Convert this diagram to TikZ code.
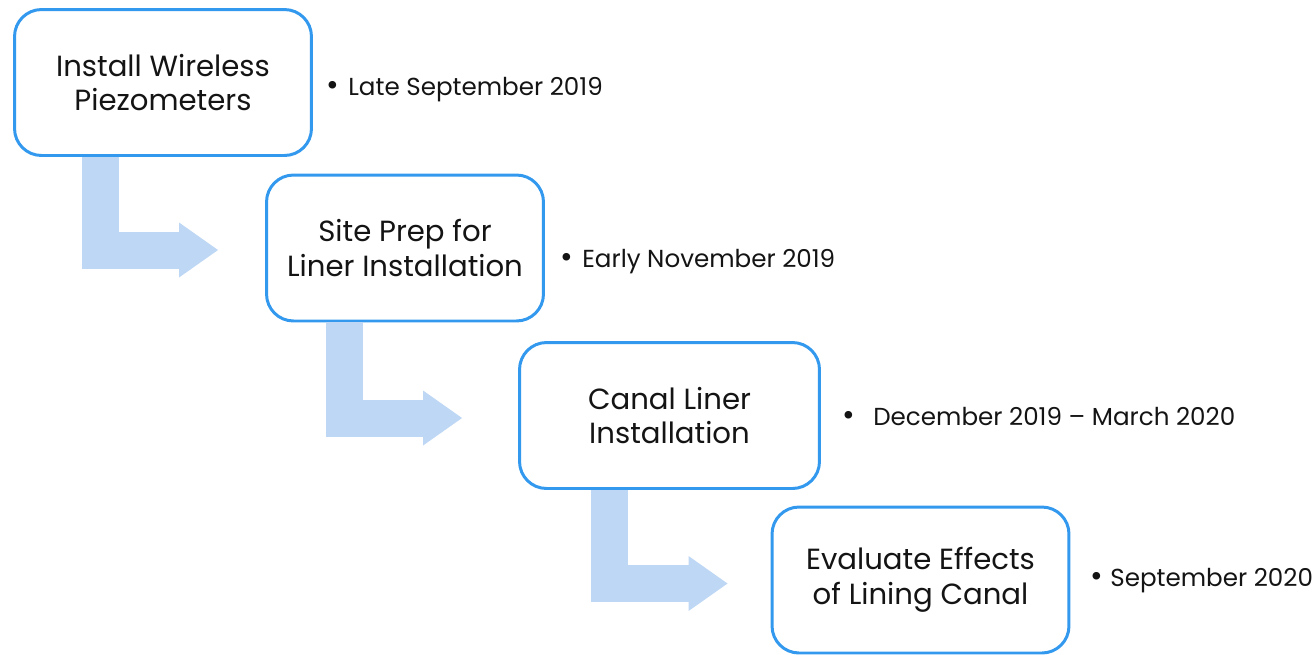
\documentclass[tikz,border=0pt]{standalone}
\usepackage{fontspec}
\setmainfont{Poppins}
\usepackage{xcolor}
\usepackage{tikz}
\usetikzlibrary{arrows.meta,positioning,calc}

\definecolor{boxblue}{HTML}{3399EE}
\definecolor{arrowblue}{HTML}{BDD7F4}
\definecolor{textgray}{HTML}{141414}

\begin{document}
\begin{tikzpicture}[
    x=0.02cm, y=-0.02cm,
    box/.style={rectangle, draw=boxblue, line width=1.7pt, rounded corners=0.54cm, fill=white, minimum width=5.94cm, minimum height=2.92cm, text centered, align=center, text=textgray, font=\fontsize{16.6}{19.8}\selectfont},
    steparrow/.style={draw=arrowblue, line width=0.74cm, -{Triangle[length=0.78cm, width=1.1cm, line width=0pt]}},
    date/.style={anchor=base west, inner sep=0pt, text=textgray, font=\fontsize{14}{17}\selectfont}
]
    \useasboundingbox (0,0) rectangle (1314,654);

    % Steps
    \node[box] (install) at (163,82.5) {Install Wireless\\Piezometers};
    \node[box, minimum width=5.54cm] (prep) at (405,248) {Site Prep for\\Liner Installation};
    \node[box, minimum width=6cm] (liner) at (669.5,415.5) {Canal Liner\\Installation};
    \node[box] (evaluate) at (920.5,580) {Evaluate Effects\\of Lining Canal};

    % Arrows
    \draw[steparrow] ($(install.south west)+(87,0)$) |- ($(prep.west)+(-47,2)$);
    \draw[steparrow] ($(prep.south west)+(79.5,0)$) |- ($(liner.west)+(-56,2.5)$);
    \draw[steparrow] ($(liner.south west)+(91.5,0)$) |- ($(evaluate.west)+(-43,3.5)$);

    % Dates
    \node[date] (d1) at (326,95) {\makebox[0.44cm][l]{\scalebox{1.25}{•}}Late September 2019};
    \node[date] (d2) at (560,267) {\makebox[0.44cm][l]{\scalebox{1.25}{•}}Early November 2019};
    \node[date] (d3) at (842,425) {\makebox[0.62cm][l]{\scalebox{1.25}{•}}December 2019 – March 2020};
    \node[date] (d4) at (1090,586) {\makebox[0.4cm][l]{\scalebox{1.25}{•}}September 2020};
\end{tikzpicture}
\end{document}
